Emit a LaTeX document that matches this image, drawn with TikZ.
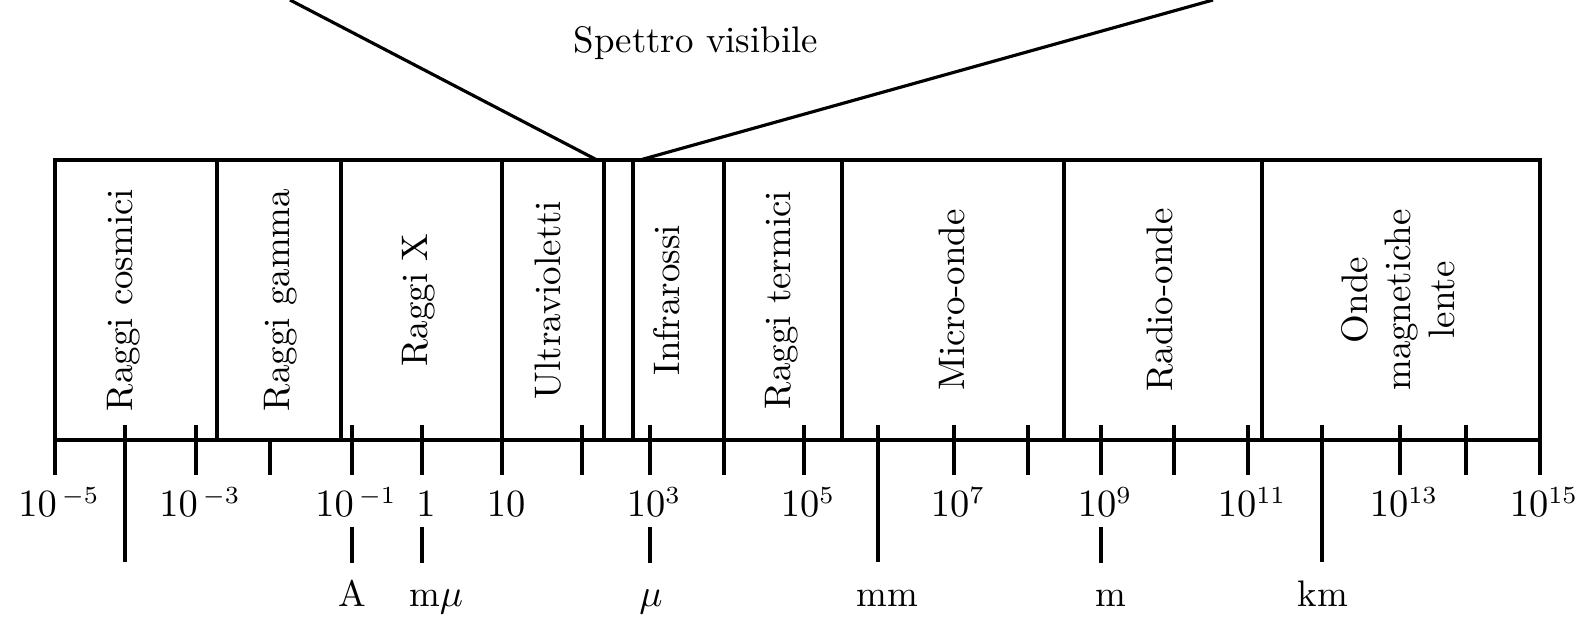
\documentclass[tikz,border=0pt]{standalone}
\usepackage{tikz}
\usetikzlibrary{calc, positioning}

\begin{document}
\begin{tikzpicture}[
    x=0.01cm, y=-0.01cm,
    every node/.style={font=\fontsize{10.5}{12.4}\selectfont, inner sep=0pt},
    band/.style={rotate=90, align=center},
    tlabel/.style={anchor=base, xshift=0.04cm},
    ulabel/.style={anchor=base},
    frame/.style={line width=0.9pt},
    axisline/.style={line width=1.3pt},
    tic/.style={line width=0.9pt},
  ]
  \useasboundingbox (0,0) rectangle (1581,628);
  % --- decade positions on the axis
  \foreach \i/\x in {0/55,1/125,2/196,3/270,4/352,5/422,6/502,7/582,8/650,9/724,10/804,
                     11/878,12/954,13/1028,14/1101,15/1174,16/1248,17/1322,18/1400,19/1466,20/1540}
    \coordinate (t\i) at (\x,440);
  % --- frame and axis
  \draw[frame] (t0 |- 0,475) -- (t0 |- 0,160) -- (t20 |- 0,160) -- (t20 |- 0,475);
  \draw[axisline] (t0) -- (t20);
  \foreach \x in {217,341,604,633,842,1064,1262}
    \draw[frame] (\x,160) -- (\x,440);
  \foreach \i in {6,9}
    \draw[frame] (t\i |- 0,160) -- (t\i |- 0,475);
  % --- visible spectrum
  \coordinate (vl) at (597,160);
  \coordinate (vr) at (640,160);
  \coordinate (vltop) at (290,0);
  \coordinate (vrtop) at (1213,0);
  \draw[frame] (vltop) -- (vl);
  \draw[frame] (vr) -- (vrtop);
  \node[anchor=base] (spettro) at (696,53) {Spettro visibile};
  % --- bands
  \node[band] (cosmici) at (124,300) {Raggi cosmici};
  \node[band] (gamma) at (281,300) {Raggi gamma};
  \node[band] (xray) at (419,300) {Raggi X};
  \node[band] (uv) at (548,300) {Ultravioletti};
  \node[band] (ir) at (667,300) {Infrarossi};
  \node[band] (termici) at (782,300) {Raggi termici};
  \node[band] (micro) at (952,300) {Micro-onde};
  \node[band] (radio) at (1160,300) {Radio-onde};
  \node[band] (lente) at (1398,300) {Onde\\magnetiche\\lente};
  % --- ticks
  \foreach \i in {2,4,5,7,8,10,12,13,14,15,16,18,19}
    \draw[tic] (t\i |- 0,425) -- (t\i |- 0,475);
  \foreach \i in {1,11,17}
    \draw[tic] (t\i |- 0,425) -- (t\i |- 0,562);
  \draw[tic] (t3) -- (t3 |- 0,475);
  \foreach \i in {4,5,8,14}
    \draw[tic] (t\i |- 0,527) -- (t\i |- 0,563);
  % --- tick labels
  \foreach \i/\lab in {0/10^{\,-5},2/10^{\,-3},4/10^{\,-1},5/1,6/10,8/10^3,10/10^5,
                       12/10^7,14/10^9,16/10^{11},18/10^{13},20/10^{15}}
    \node[tlabel] (lab\i) at (t\i |- 0,517) {$\lab$};
  % --- units
  \foreach \i/\dx/\unit in {4/0/A,5/14/m$\mu$,8/1/$\mu$,11/9/mm,14/10/m,17/1/km}
    \node[ulabel, xshift=\dx*0.01cm] (unit\i) at (t\i |- 0,607) {\unit};
\end{tikzpicture}
\end{document}
